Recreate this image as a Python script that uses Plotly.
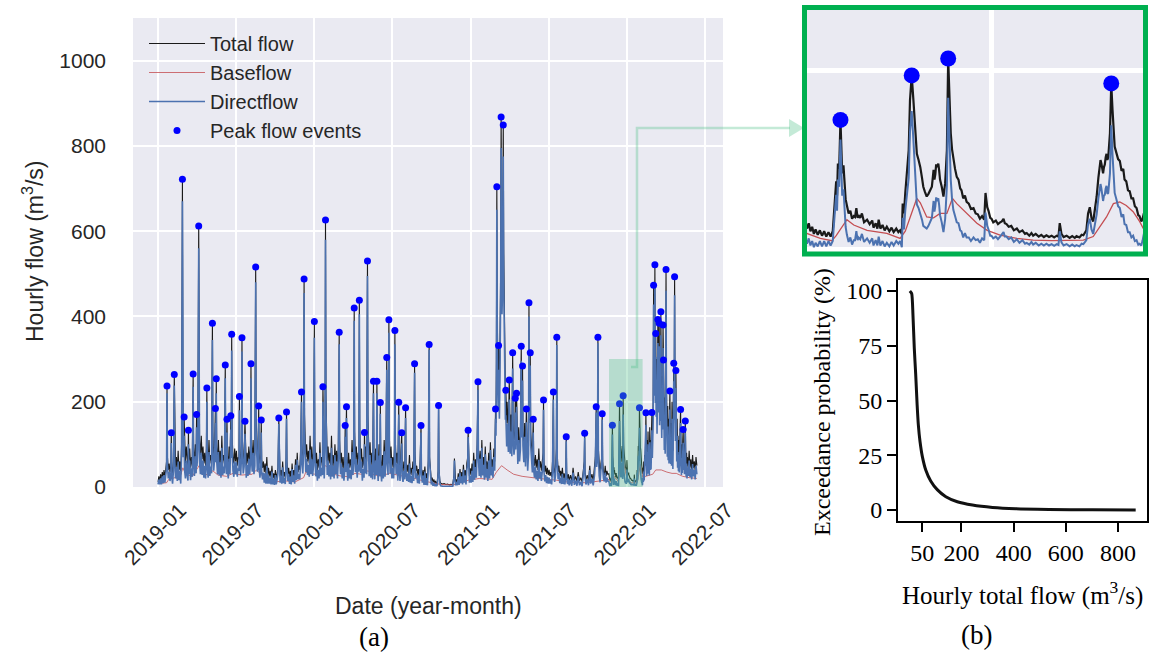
import numpy as np
import pandas as pd
import plotly.graph_objects as go

START = "2019-01-01"

# ---------------------------------------------------------------
# Hourly hydrograph samples: day offset from START, total flow and
# direct flow (m3/s), grouped by period.
# ---------------------------------------------------------------
day_2019a = [0, 2, 4, 6, 8, 10, 12, 14, 16, 18, 20, 21, 22, 24, 26, 28, 30, 31, 32, 34,
             36, 38, 39, 41, 43, 45, 47, 49, 51, 53, 55, 57, 58, 59, 61, 62, 64, 66, 68, 70,
             71, 72, 74, 76, 78, 80, 82, 83, 85, 87, 89, 90, 91, 93, 95, 96, 97, 99, 101, 103,
             105, 107, 109, 111, 113, 114, 115, 117, 119, 121, 123, 125, 127, 128, 130, 132, 134, 135, 136, 137,
             139, 141, 143, 145, 147, 149, 151, 153, 155, 157, 158, 160, 161, 162, 164, 166, 168, 170, 171, 172,
             173, 175, 177, 179]
total_2019a = [12, 25, 14, 30, 16, 35, 20, 40, 22, 45, 60, 237, 70, 40, 55, 35, 50, 127, 48, 30,
               60, 264, 90, 45, 70, 38, 85, 40, 60, 30, 100, 722, 260, 120, 164, 80, 55, 95, 60, 45,
               133, 60, 90, 45, 70, 50, 265, 90, 55, 100, 60, 170, 80, 120, 612, 220, 110, 75, 120, 65,
               95, 55, 80, 50, 90, 232, 80, 50, 110, 55, 75, 60, 384, 130, 70, 95, 184, 90, 254, 95,
               60, 110, 55, 85, 50, 120, 55, 75, 60, 286, 90, 60, 159, 75, 50, 95, 60, 167, 100, 358,
               120, 70, 55, 90]
direct_2019a = [6, 17, 6, 20, 6, 25, 9, 28, 10, 32, 45, 220, 52, 20, 35, 14, 28, 103, 24, 8,
                38, 238, 62, 20, 46, 14, 60, 16, 38, 8, 75, 670, 205, 70, 120, 40, 20, 62, 28, 15,
                100, 30, 62, 16, 44, 24, 235, 60, 26, 72, 32, 140, 48, 88, 560, 165, 60, 30, 80, 28,
                62, 22, 50, 20, 62, 200, 50, 22, 82, 26, 48, 32, 345, 92, 38, 65, 150, 58, 220, 62,
                30, 82, 27, 58, 22, 92, 28, 48, 32, 255, 60, 30, 128, 45, 20, 66, 30, 135, 68, 320,
                85, 38, 24, 60]

day_2019b = [181, 183, 185, 187, 189, 190, 191, 193, 195, 196, 197, 199, 201, 203, 204,
             206, 208, 210, 212, 214, 216, 217, 218, 220, 222, 224, 226, 228, 229, 230,
             232, 234, 235, 236, 238, 240, 241, 242, 244, 246, 248, 250, 252, 254, 256,
             258, 260, 262, 264, 266, 268, 270, 272, 274, 276, 278, 280, 282, 283, 285,
             287, 289, 291, 293, 295, 297, 299, 300, 301, 303, 305, 307, 309, 311, 313,
             315, 317, 319, 321, 323, 325, 327, 329, 331, 333, 335, 336, 338, 340, 341,
             342, 343, 345, 347, 349, 351, 353, 355, 357, 359, 361, 363]
total_2019b = [60, 85, 50, 70, 65, 212, 80, 55, 100, 350, 110, 60, 75, 154, 70,
               50, 80, 55, 95, 60, 90, 289, 100, 65, 110, 60, 80, 516, 170, 95,
               70, 85, 190, 80, 55, 75, 157, 65, 45, 60, 35, 55, 30, 70, 28,
               45, 25, 38, 22, 50, 20, 32, 18, 40, 20, 30, 45, 162, 55, 25,
               40, 22, 60, 24, 35, 22, 70, 176, 60, 30, 45, 22, 38, 20, 55,
               25, 40, 22, 65, 30, 80, 35, 50, 40, 90, 223, 80, 60, 110, 488,
               170, 90, 70, 100, 60, 85, 55, 120, 60, 95, 55, 80]
direct_2019b = [30, 58, 24, 44, 38, 180, 52, 28, 72, 318, 80, 32, 48, 125, 42,
                22, 52, 26, 66, 30, 62, 255, 68, 36, 80, 30, 50, 480, 130, 58,
                36, 52, 155, 45, 22, 45, 128, 36, 18, 34, 10, 32, 8, 50, 8,
                28, 8, 22, 6, 36, 6, 19, 5, 28, 6, 17, 32, 148, 40, 10,
                26, 8, 46, 9, 21, 7, 55, 160, 44, 14, 30, 7, 24, 6, 42,
                12, 27, 8, 52, 16, 64, 18, 30, 18, 65, 200, 55, 32, 82, 455,
                130, 55, 35, 66, 28, 52, 24, 88, 30, 65, 26, 50]

day_2020a = [365, 366, 368, 370, 372, 374, 376, 378, 380, 382, 384, 385, 386, 388, 390,
             391, 392, 393, 395, 397, 399, 401, 403, 405, 407, 409, 411, 413, 415, 417,
             419, 421, 423, 424, 426, 428, 430, 432, 434, 436, 437, 438, 440, 441, 443,
             445, 447, 449, 451, 453, 455, 457, 458, 459, 461, 463, 465, 467, 469, 470,
             471, 473, 475, 477, 479, 481, 482, 483, 485, 487, 489, 490, 491, 493, 495,
             497, 499, 501, 503, 504, 506, 508, 510, 511, 512, 514, 516, 518, 519, 520,
             522, 524, 526, 528, 530, 532, 534, 535, 537, 539, 540, 542, 544, 546]
total_2020a = [388, 110, 50, 80, 40, 65, 45, 105, 50, 70, 55, 235, 90, 50, 120,
               626, 220, 110, 60, 95, 55, 80, 45, 120, 50, 75, 45, 100, 55, 85,
               45, 95, 363, 110, 55, 80, 45, 70, 40, 65, 144, 60, 188, 70, 40,
               80, 45, 65, 45, 110, 55, 90, 420, 130, 65, 95, 50, 80, 65, 438,
               140, 65, 90, 45, 70, 50, 128, 60, 95, 60, 530, 170, 85, 55, 105,
               50, 80, 45, 248, 80, 45, 90, 55, 248, 75, 40, 100, 50, 198, 65,
               38, 75, 45, 110, 50, 85, 304, 90, 55, 392, 120, 60, 95, 45]
direct_2020a = [350, 80, 25, 55, 15, 40, 20, 80, 25, 45, 28, 200, 60, 20, 85,
                580, 180, 75, 28, 62, 25, 52, 18, 92, 24, 50, 20, 75, 30, 60,
                20, 70, 335, 85, 30, 55, 20, 45, 15, 40, 118, 35, 162, 45, 15,
                55, 20, 40, 18, 82, 28, 62, 390, 100, 35, 65, 22, 52, 36, 405,
                108, 33, 60, 15, 42, 22, 100, 32, 65, 30, 495, 135, 52, 25, 75,
                22, 52, 18, 220, 52, 18, 62, 28, 220, 48, 14, 74, 25, 172, 40,
                13, 50, 20, 84, 24, 58, 275, 62, 28, 362, 90, 32, 68, 20]

day_2020b = [548, 550, 552, 553, 554, 556, 558, 560, 562, 563, 565, 567, 569, 570, 572,
             574, 576, 578, 579, 581, 583, 585, 587, 589, 591, 593, 595, 597, 599, 600,
             602, 604, 606, 608, 610, 612, 614, 615, 617, 619, 621, 623, 625, 627, 629,
             631, 633, 634, 636, 638, 640, 642, 644, 646, 648, 650, 652, 654, 655, 656,
             658, 660, 664, 668, 672, 676, 680, 684, 688, 691, 692, 693, 695, 697, 699,
             701, 703, 705, 707, 709, 711, 713, 715, 717, 719, 721, 723, 724, 725, 727,
             729]
total_2020b = [70, 45, 90, 367, 110, 55, 80, 40, 199, 65, 38, 70, 127, 48, 35,
               60, 40, 186, 58, 35, 52, 32, 75, 30, 45, 28, 60, 32, 289, 80,
               38, 50, 26, 42, 24, 65, 144, 44, 24, 40, 18, 48, 17, 32, 15,
               62, 334, 70, 26, 15, 22, 11, 18, 9, 14, 8, 11, 38, 191, 42,
               14, 9, 7, 8, 6, 7, 5, 6, 5, 28, 67, 22, 9, 18, 11,
               32, 13, 42, 18, 35, 16, 52, 22, 40, 20, 56, 70, 133, 50, 26,
               44]
direct_2020b = [45, 20, 65, 335, 85, 30, 55, 15, 170, 40, 14, 46, 102, 25, 12,
                38, 18, 162, 36, 14, 32, 12, 55, 10, 26, 9, 42, 14, 268, 60,
                20, 32, 9, 26, 8, 50, 128, 30, 10, 27, 5, 36, 5, 21, 4,
                52, 322, 60, 17, 6, 13, 3, 10, 2, 7, 2, 5, 32, 185, 36,
                8, 3, 2, 2, 1, 2, 1, 1, 1, 23, 62, 17, 4, 12, 4,
                24, 5, 33, 9, 25, 6, 41, 10, 27, 6, 41, 54, 117, 34, 10,
                27]

day_2021a = [731, 733, 735, 737, 739, 741, 743, 745, 747, 748, 750, 752, 754, 756, 758,
             760, 762, 764, 766, 768, 770, 772, 774, 776, 778, 780, 782, 784, 786, 788,
             789, 790, 791, 792, 793, 794, 795, 796, 797, 798, 799, 800, 801, 802, 803,
             804, 805, 806, 807, 808, 809, 810, 811, 812, 813, 814, 815, 816, 818, 820,
             821, 822, 824, 826, 828, 829, 831, 833, 834, 835, 837, 838, 840, 842, 844,
             846, 848, 849, 851, 852, 854, 856, 858, 860, 861, 863, 865, 866, 867, 869,
             870, 872, 874, 876, 877, 879, 881, 883, 885, 887, 889, 891, 893, 895, 897,
             899, 900, 901, 903, 905, 907, 909, 911]
total_2021a = [28, 55, 30, 80, 35, 65, 40, 100, 247, 90, 45, 85, 40, 110, 45,
               70, 35, 95, 40, 60, 32, 80, 38, 105, 45, 65, 40, 90, 60, 183,
               150, 300, 704, 420, 300, 240, 332, 260, 220, 300, 380, 520, 868, 600, 480,
               520, 620, 849, 560, 420, 330, 280, 220, 227, 170, 150, 200, 160, 130, 251,
               150, 120, 170, 110, 315, 150, 110, 130, 208, 120, 220, 120, 85, 140, 90,
               120, 330, 150, 284, 130, 90, 150, 80, 183, 100, 70, 110, 432, 180, 315,
               130, 80, 65, 159, 70, 50, 75, 45, 65, 40, 90, 45, 60, 38, 55,
               80, 204, 60, 35, 50, 30, 45, 28]
direct_2021a = [10, 38, 12, 62, 17, 47, 22, 82, 228, 72, 26, 66, 22, 92, 27,
                52, 17, 77, 22, 42, 14, 62, 20, 87, 27, 47, 22, 70, 38, 160,
                120, 255, 650, 370, 250, 185, 275, 200, 160, 240, 318, 455, 795, 525, 405,
                445, 545, 775, 488, 350, 262, 215, 158, 168, 112, 95, 148, 110, 82, 205,
                106, 78, 130, 72, 278, 115, 76, 96, 175, 88, 188, 88, 54, 110, 60,
                88, 296, 116, 250, 97, 58, 118, 48, 152, 68, 38, 78, 400, 150, 285,
                98, 48, 34, 128, 40, 22, 48, 18, 38, 14, 64, 20, 36, 14, 31,
                56, 181, 37, 13, 28, 9, 24, 8]

day_2021b = [913, 915, 917, 919, 921, 923, 924, 926, 928, 930, 931, 932, 934, 936, 938,
             940, 942, 944, 946, 948, 950, 952, 953, 954, 956, 958, 960, 963, 966, 969,
             972, 975, 978, 981, 984, 987, 990, 993, 995, 996, 997, 999, 1002, 1005, 1008,
             1010, 1013, 1016, 1019, 1021, 1023, 1024, 1026, 1027, 1028, 1030, 1032, 1034, 1036, 1037,
             1038, 1040, 1042, 1044, 1046, 1048, 1050]
total_2021b = [40, 26, 35, 24, 60, 223, 55, 30, 45, 90, 351, 80, 35, 50, 25,
               38, 22, 45, 20, 32, 18, 40, 118, 35, 18, 30, 15, 28, 14, 45,
               15, 25, 13, 35, 14, 22, 12, 40, 60, 126, 35, 16, 28, 14, 50,
               18, 30, 15, 40, 70, 188, 60, 80, 351, 90, 40, 25, 55, 70, 172,
               60, 35, 28, 50, 26, 38, 30]
direct_2021b = [22, 8, 17, 6, 42, 205, 37, 12, 28, 72, 333, 62, 18, 33, 9,
                22, 7, 31, 7, 20, 6, 28, 107, 24, 7, 19, 4, 17, 3, 34,
                5, 15, 3, 25, 4, 12, 2, 30, 50, 116, 25, 6, 18, 4, 40,
                8, 19, 4, 28, 58, 175, 47, 66, 337, 76, 26, 11, 41, 56, 158,
                45, 20, 13, 34, 10, 22, 14]

# Nov 2021 - Feb 2022 window, sampled finely
day_winter = [1052.6, 1053.0, 1053.4, 1053.8, 1054.2, 1054.6, 1055.0, 1055.5, 1056.0, 1056.5,
              1057.0, 1057.5, 1058.0, 1058.5, 1059.0, 1059.2, 1059.5, 1059.8, 1060.0, 1060.2,
              1060.5, 1060.8, 1061.0, 1061.2, 1061.5, 1061.8, 1062.0, 1062.3, 1062.7, 1063.1,
              1063.5, 1063.9, 1064.2, 1064.5, 1064.8, 1065.0, 1065.4, 1065.8, 1066.3, 1067.0,
              1067.6, 1068.2, 1068.5, 1069.0, 1069.4, 1069.7, 1070.1, 1070.6, 1071.1, 1071.6,
              1072.2, 1072.7, 1073.2, 1073.8, 1074.3, 1074.7, 1075.1, 1075.3, 1075.6, 1075.9,
              1076.3, 1076.7, 1077.0, 1077.4, 1077.8, 1078.2, 1078.6, 1079.0, 1079.4, 1079.8,
              1080.1, 1080.5, 1080.9, 1081.3, 1081.7, 1082.1, 1082.5, 1082.7, 1082.9, 1083.1,
              1083.3, 1083.6, 1083.8, 1084.0, 1084.4, 1084.8, 1085.2, 1085.6, 1085.9, 1086.2,
              1086.5, 1086.8, 1087.1, 1087.5, 1087.9, 1088.3, 1088.7, 1089.0, 1089.4, 1089.8,
              1090.2, 1090.7, 1091.2, 1091.8, 1092.3, 1092.8, 1093.3, 1093.8, 1094.3, 1094.6,
              1094.8, 1095.0, 1095.3, 1095.7, 1096.0, 1096.4, 1097.0, 1097.5, 1098.0, 1098.4,
              1098.8, 1099.1, 1099.5, 1100.0, 1100.6, 1101.2, 1101.9, 1102.5, 1103.2, 1103.8,
              1104.2, 1104.8, 1105.3, 1105.7, 1106.3, 1107.0, 1107.6, 1108.2, 1108.8, 1109.4,
              1110.0, 1110.6, 1111.2, 1111.6, 1111.9, 1112.3, 1112.8, 1113.5, 1114.2, 1114.8,
              1115.4, 1115.8, 1116.5, 1117.0, 1117.4, 1117.8, 1118.1, 1118.5, 1118.9, 1119.3,
              1119.7, 1120.1, 1120.5, 1120.9, 1121.2, 1121.4, 1121.6, 1121.8, 1122.0, 1122.2,
              1122.4, 1122.6, 1122.8, 1123.0, 1123.2, 1123.6, 1123.9, 1124.2, 1124.5, 1124.7,
              1125.1, 1125.5, 1125.9, 1126.3, 1126.7, 1127.0, 1127.4, 1127.8, 1128.2, 1128.6,
              1129.0, 1129.4, 1129.8, 1130.2, 1130.5, 1130.9, 1131.2, 1131.5]
total_winter = [31, 23, 29, 20, 25, 17, 22, 16, 21, 15,
                20, 14, 19, 14, 20, 40, 55, 76, 60, 96,
                90, 145, 100, 85, 94, 72, 56, 49, 40, 43,
                34, 37, 36, 46, 35, 38, 35, 40, 30, 33,
                28, 32, 24, 29, 23, 33, 23, 27, 21, 25,
                20, 24, 19, 23, 19, 21, 17, 51, 40, 63,
                85, 111, 167, 195, 167, 130, 107, 100, 92, 80,
                70, 64, 59, 62, 66, 70, 89, 78, 84, 95,
                92, 96, 88, 78, 70, 59, 74, 111, 214, 167,
                130, 112, 100, 90, 81, 78, 68, 66, 57, 60,
                53, 51, 45, 46, 40, 39, 34, 37, 33, 63,
                55, 47, 43, 35, 34, 30, 32, 28, 30, 31,
                34, 29, 28, 25, 26, 21, 23, 19, 21, 17,
                18, 15, 18, 15, 17, 14, 16, 13.5, 15.5, 13.5,
                15, 13, 15, 14, 29, 17, 13.5, 15, 12.5, 14.5,
                12.5, 14.5, 13, 16, 15.5, 18.5, 21, 40, 47, 35,
                31, 45, 59, 80, 96, 100, 96, 90, 85, 92,
                95, 103, 107, 100, 103, 130, 186, 156, 125, 115,
                108, 101, 99, 88, 90, 78, 76, 66, 65, 57,
                57, 48, 46, 38, 37, 31, 34, 40]
direct_winter = [13, 6, 12, 4, 9, 2, 7, 3, 9, 3,
                 9, 3, 9, 4, 9, 28, 42, 61, 43, 78,
                 70, 123, 76, 60, 67, 43, 25, 16, 8, 13,
                 5, 10, 10, 20, 10, 13, 11, 17, 8, 12,
                 7, 12, 4, 10, 4, 14, 4, 9, 3, 7,
                 3, 8, 4, 9, 6, 9, 2, 35, 22, 43,
                 60, 80, 132, 155, 122, 79, 50, 46, 40, 33,
                 26, 24, 23, 26, 30, 35, 54, 42, 48, 58,
                 54, 57, 49, 38, 30, 19, 34, 71, 170, 119,
                 78, 56, 44, 37, 30, 29, 21, 20, 13, 18,
                 13, 13, 9, 13, 10, 11, 7, 12, 10, 41,
                 33, 26, 22, 15, 15, 12, 14, 11, 14, 16,
                 19, 14, 14, 11, 13, 8, 11, 7, 10, 6,
                 7, 5, 8, 5, 7, 4, 6, 4, 6, 4,
                 5.6, 3.6, 5.6, 4.6, 20, 7.6, 4, 5.6, 3, 5,
                 3, 4.5, 3, 6, 5.5, 8, 10, 28, 34, 22,
                 17, 28, 39, 57, 71, 73, 68, 61, 54, 60,
                 61, 68, 71, 62, 63, 85, 139, 106, 74, 63,
                 56, 48, 46, 36, 39, 28, 27, 19, 19, 13,
                 15, 9, 10, 5, 6, 4, 9.5, 17]

day_2022 = list(range(1132, 1237)) + [1238, 1240, 1242, 1244, 1246, 1248, 1250, 1252, 1254, 1256, 1258]
total_2022 = [45, 35, 60, 40, 75, 50, 90, 174, 80, 55, 110, 60, 130, 70, 95,
              60, 140, 75, 110, 80, 120, 175, 110, 160, 200, 473, 260, 300, 521, 250,
              360, 220, 300, 180, 260, 393, 230, 280, 384, 200, 320, 210, 411, 230, 170,
              260, 190, 380, 298, 180, 140, 210, 130, 250, 510, 230, 160, 120, 190, 110,
              160, 100, 140, 225, 130, 95, 150, 90, 200, 110, 85, 170, 290, 200, 493,
              220, 150, 273, 140, 100, 160, 85, 120, 75, 110, 70, 95, 120, 182, 90,
              60, 100, 65, 110, 135, 70, 100, 60, 90, 155, 75, 50, 80, 45, 70,
              50, 85, 45, 65, 40, 75, 45, 60, 38, 70, 50]
direct_2022 = [22, 12, 36, 15, 50, 24, 64, 146, 52, 26, 82, 31, 100, 40, 62,
               27, 105, 40, 72, 41, 80, 133, 68, 118, 156, 428, 214, 252, 470, 197,
               305, 165, 245, 125, 205, 338, 175, 225, 330, 145, 265, 155, 356, 175, 115,
               205, 135, 326, 244, 126, 87, 157, 78, 198, 460, 180, 110, 71, 142, 63,
               114, 55, 96, 182, 88, 54, 110, 50, 160, 66, 42, 128, 248, 158, 450,
               178, 108, 232, 98, 60, 120, 45, 82, 37, 74, 34, 60, 86, 150, 57,
               28, 68, 33, 78, 104, 40, 70, 30, 62, 128, 48, 24, 55, 20, 46,
               26, 62, 23, 43, 18, 54, 25, 40, 18, 50, 30]

# Separated baseflow (m3/s)
base_day = [0, 20, 25, 40, 50, 58, 65, 80, 96, 105, 115, 128, 140, 160, 175, 195, 220, 230, 245, 270,
            300, 320, 340, 345, 365, 392, 410, 425, 445, 460, 475, 490, 505, 520, 540, 560, 580, 600, 620, 640,
            660, 690, 700, 725, 750, 780, 790, 802, 815, 830, 850, 870, 890, 910, 930, 960, 1000, 1030,
            1052.9, 1056.1, 1058.8, 1059.8, 1061.2, 1062.3, 1063.9, 1067, 1071.6, 1074.7, 1075.9, 1077.4,
            1078.6, 1079.4, 1080.9, 1082.5, 1084, 1085.6, 1086.9, 1087.9, 1090.2, 1092.6, 1095, 1098,
            1101.9, 1105.7, 1110, 1113.5, 1117.4, 1119.7, 1121.2, 1122.8, 1124.4, 1125.9, 1127.4, 1129,
            1130.5, 1131.4, 1140, 1155, 1162, 1175, 1188, 1200, 1210, 1225, 1240, 1258]
base_flow = [8, 10, 18, 22, 18, 45, 30, 25, 50, 35, 28, 38, 28, 25, 32, 28, 30, 40, 25, 12,
             14, 12, 22, 35, 30, 50, 30, 26, 24, 32, 30, 38, 28, 26, 32, 28, 24, 20, 14, 10,
             6, 5, 8, 16, 20, 18, 35, 50, 40, 30, 25, 22, 20, 18, 16, 11, 10, 14,
             17.6, 12, 9.4, 15, 25, 33, 27, 21, 17.6, 12, 20, 40,
             57, 52, 36, 35, 40, 40, 57, 51, 40, 29, 21, 15.7,
             12, 10, 9.4, 9.4, 10, 14, 25, 36, 51, 53, 49, 42,
             31, 23, 26, 30, 40, 40, 35, 32, 32, 25, 22, 20]

# Detected peak flow events
peak_day = [21, 31, 38, 57, 61, 71, 82, 90, 95, 114, 127, 134, 136, 157, 161, 170, 172, 190, 196, 203,
            217, 228, 235, 241, 282, 300, 335, 341, 365, 385, 391, 423, 437, 440, 458, 470, 482, 489, 503, 511,
            519, 534, 539, 553, 562, 569, 578, 599, 614, 633, 655, 724, 747, 788, 791, 795, 801, 806, 812, 820,
            828, 834, 837, 848, 851, 860, 866, 869, 876, 900, 923, 931, 953, 996, 1023, 1027, 1037, 1060.8, 1077.4, 1085.9,
            1123.9, 1139, 1153, 1157, 1160, 1162, 1167, 1170, 1174, 1179, 1180, 1186, 1195, 1204, 1206, 1209, 1220, 1226, 1231]
peak_flow = [237, 127, 264, 722, 164, 133, 265, 170, 612, 232, 384, 184, 254, 286, 159, 167, 358, 212, 350, 154,
             289, 516, 190, 157, 162, 176, 223, 488, 388, 235, 626, 363, 144, 188, 420, 438, 128, 530, 248, 248,
             198, 304, 392, 367, 199, 127, 186, 289, 144, 334, 191, 133, 247, 183, 704, 332, 868, 849, 227, 251,
             315, 208, 220, 330, 284, 183, 432, 315, 159, 204, 223, 351, 118, 126, 188, 351, 172, 145, 195, 214,
             186, 174, 175, 473, 521, 360, 393, 384, 411, 380, 298, 510, 225, 290, 493, 273, 182, 135, 155]

# Flow duration (exceedance) curve of hourly total flow
exc_flow = [2, 9, 14, 19, 24.5, 30, 34.5, 41, 50, 63, 82, 108, 140, 184, 242, 319, 408, 536, 702, 868]
exc_prob = [100, 98.8, 89, 74, 61.8, 48, 39, 31.3, 24.4, 18.3, 13.3, 9.2, 6.1, 3.8, 2.3, 1.2, 0.6, 0.3, 0.1, 0]

tick_months = ["2019-01", "2019-07", "2020-01", "2020-07", "2021-01", "2021-07", "2022-01", "2022-07"]

flow_day = day_2019a + day_2019b + day_2020a + day_2020b + day_2021a + day_2021b + day_winter + day_2022
total_flow = total_2019a + total_2019b + total_2020a + total_2020b + total_2021a + total_2021b + total_winter + total_2022
direct_flow = direct_2019a + direct_2019b + direct_2020a + direct_2020b + direct_2021a + direct_2021b + direct_winter + direct_2022
assert len(flow_day) == len(total_flow) == len(direct_flow)
assert len(base_day) == len(base_flow) and len(peak_day) == len(peak_flow)


def as_dates(days):
    return pd.Timestamp(START) + pd.to_timedelta(np.asarray(days, dtype=float), unit="D")


def iso(day):
    return as_dates([day])[0].isoformat()


W, H = 1151, 657


def fx(p):
    return p / W


def fy(p):
    return 1 - p / H


SANS = "Liberation Sans, Arial, sans-serif"
SERIF = "Liberation Serif, Times New Roman, serif"
INK = "#262626"
C_TOTAL, C_BASE, C_DIRECT, C_PEAK = "#1a1a1a", "#C44E52", "#4C72B0", "#0000FF"
MINT = "rgba(72,190,130,0.32)"

t_dates = as_dates(flow_day)
b_dates = as_dates(base_day)
p_dates = as_dates(peak_day)

fig = go.Figure()

# main hydrograph (a)
fig.add_trace(go.Scatter(x=t_dates, y=total_flow, mode="lines", name="Total flow",
                         line=dict(color=C_TOTAL, width=1.1), xaxis="x", yaxis="y"))
fig.add_trace(go.Scatter(x=b_dates, y=base_flow, mode="lines", name="Baseflow",
                         line=dict(color=C_BASE, width=0.8), xaxis="x", yaxis="y"))
fig.add_trace(go.Scatter(x=t_dates, y=direct_flow, mode="lines", name="Directflow",
                         line=dict(color=C_DIRECT, width=1.6), xaxis="x", yaxis="y"))
fig.add_trace(go.Scatter(x=p_dates, y=peak_flow, mode="markers", name="Peak flow events",
                         marker=dict(color=C_PEAK, size=7), xaxis="x", yaxis="y"))

# zoomed window
fig.add_trace(go.Scatter(x=t_dates, y=total_flow, mode="lines", showlegend=False,
                         line=dict(color=C_TOTAL, width=2.2), xaxis="x2", yaxis="y2"))
fig.add_trace(go.Scatter(x=b_dates, y=base_flow, mode="lines", showlegend=False,
                         line=dict(color=C_BASE, width=1.3), xaxis="x2", yaxis="y2"))
fig.add_trace(go.Scatter(x=t_dates, y=direct_flow, mode="lines", showlegend=False,
                         line=dict(color=C_DIRECT, width=2), xaxis="x2", yaxis="y2"))
fig.add_trace(go.Scatter(x=p_dates, y=peak_flow, mode="markers", showlegend=False,
                         marker=dict(color=C_PEAK, size=16), xaxis="x2", yaxis="y2"))

# exceedance curve (b)
fig.add_trace(go.Scatter(x=exc_flow, y=exc_prob, mode="lines", showlegend=False,
                         line=dict(color="#111111", width=3, shape="spline", smoothing=0.6),
                         xaxis="x3", yaxis="y3"))

win0, win1 = 1053.0, 1131.3
grid = dict(showgrid=True, gridcolor="white", zeroline=False, showline=False, ticks="", automargin=False)

fig.update_layout(
    width=W, height=H, autosize=False,
    margin=dict(l=0, r=0, t=0, b=0, pad=0),
    paper_bgcolor="white", plot_bgcolor="rgba(0,0,0,0)",
    xaxis=dict(domain=[fx(133), fx(723)], anchor="y", type="date",
               range=[iso(-58.4), iso(1319)],
               tickvals=pd.to_datetime(tick_months), ticktext=tick_months,
               tickangle=-45, ticklabelshift=22, ticklabelstandoff=6,
               tickfont=dict(family=SANS, size=21, color=INK), gridwidth=2, **grid),
    yaxis=dict(domain=[fy(487), fy(18)], anchor="x", range=[0, 1100],
               tickvals=[0, 200, 400, 600, 800, 1000], ticklabelstandoff=26,
               tickfont=dict(family=SANS, size=21, color=INK), gridwidth=2, **grid),
    xaxis2=dict(domain=[fx(807), fx(1143)], anchor="y2", type="date",
                range=[iso(win0), iso(win1)], tickvals=[pd.Timestamp("2022-01-01")],
                showticklabels=False, gridwidth=5, **grid),
    yaxis2=dict(domain=[fy(251), fy(10)], anchor="x2", range=[-2.2, 268.5],
                tickvals=[0, 200], showticklabels=False, gridwidth=5, **grid),
    xaxis3=dict(domain=[fx(898), fx(1147)], anchor="y3", range=[-43.4, 911.4],
                tickvals=[50, 200, 400, 600, 800], ticks="outside", ticklen=9, tickwidth=1.5,
                tickcolor="black", showline=True, linecolor="black", linewidth=2, mirror=True,
                showgrid=False, zeroline=False, automargin=False,
                tickfont=dict(family=SERIF, size=24, color="black")),
    yaxis3=dict(domain=[fy(521), fy(280)], anchor="x3", range=[-5, 105],
                tickvals=[0, 25, 50, 75, 100], ticks="outside", ticklen=9, tickwidth=1.5,
                tickcolor="black", showline=True, linecolor="black", linewidth=2, mirror=True,
                showgrid=False, zeroline=False, automargin=False,
                tickfont=dict(family=SERIF, size=24, color="black")),
    legend=dict(x=fx(144), y=fy(24), xanchor="left", yanchor="top", itemwidth=56,
                bgcolor="rgba(0,0,0,0)", borderwidth=0, tracegroupgap=4,
                font=dict(family=SANS, size=20, color=INK)),
    showlegend=True,
)

# panel backgrounds and zoom indication
path_pts = [(631, 367), (637, 367), (637, 128), (790, 128)]
connector = "M " + " L ".join(f"{fx(a):.5f},{fy(b):.5f}" for a, b in path_pts)
head = f"M {fx(789):.5f},{fy(119):.5f} L {fx(804):.5f},{fy(128):.5f} L {fx(789):.5f},{fy(137):.5f} Z"

fig.update_layout(shapes=[
    dict(type="rect", xref="x domain", yref="y domain", x0=0, x1=1, y0=0, y1=1,
         fillcolor="#EAEAF2", line=dict(width=0), layer="below"),
    dict(type="rect", xref="x2 domain", yref="y2 domain", x0=0, x1=1, y0=0, y1=1,
         fillcolor="#EAEAF2", line=dict(width=0), layer="below"),
    dict(type="rect", xref="x", yref="y", x0=iso(win0), x1=iso(win1), y0=0, y1=300,
         fillcolor=MINT, line=dict(width=0), layer="above"),
    dict(type="path", xref="paper", yref="paper", path=connector,
         line=dict(color=MINT, width=2.5), layer="above"),
    dict(type="path", xref="paper", yref="paper", path=head,
         fillcolor=MINT, line=dict(width=0), layer="above"),
    dict(type="rect", xref="paper", yref="paper", x0=fx(804.5), x1=fx(1145.5),
         y0=fy(254), y1=fy(7.5), line=dict(color="#00B050", width=5), layer="above"),
])

label = dict(xref="paper", yref="paper", showarrow=False, xanchor="center", yanchor="middle")
fig.update_layout(annotations=[
    dict(text="Hourly flow (m<sup>3</sup>/s)", x=fx(33), y=fy(252), textangle=-90,
         font=dict(family=SANS, size=23, color=INK), **label),
    dict(text="Date (year-month)", x=fx(428), y=fy(606),
         font=dict(family=SANS, size=23, color=INK), **label),
    dict(text="(a)", x=fx(374), y=fy(637),
         font=dict(family=SERIF, size=27, color="black"), **label),
    dict(text="Exceedance probability (%)", x=fx(822), y=fy(402), textangle=-90,
         font=dict(family=SERIF, size=24, color="black"), **label),
    dict(text="Hourly total flow (m<sup>3</sup>/s)", x=fx(1022), y=fy(593),
         font=dict(family=SERIF, size=25, color="black"), **label),
    dict(text="(b)", x=fx(976), y=fy(635),
         font=dict(family=SERIF, size=27, color="black"), **label),
])

fig.write_html("out.html")
